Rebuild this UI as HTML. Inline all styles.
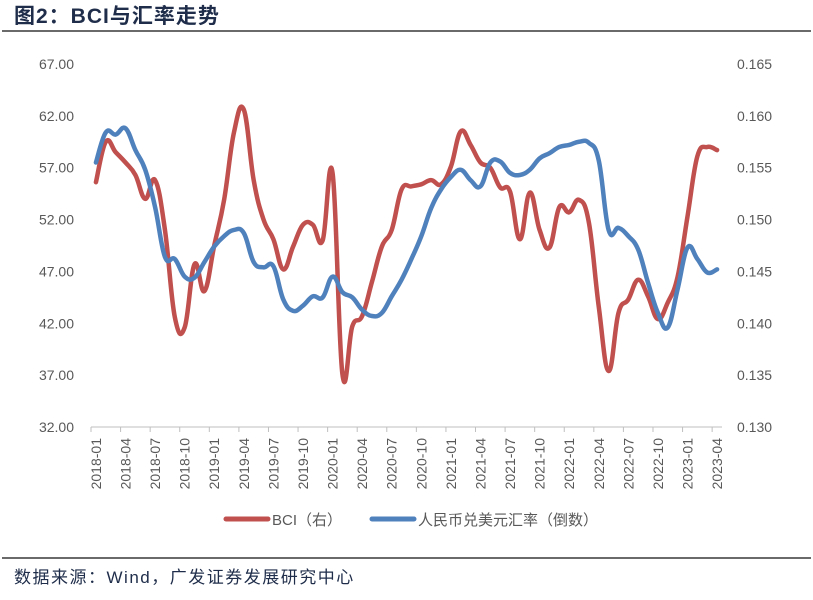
<!DOCTYPE html>
<html><head><meta charset="utf-8"><style>
body{margin:0;background:#fff;width:813px;height:595px;overflow:hidden;font-family:"Liberation Sans","Noto Sans CJK SC",sans-serif}
</style></head><body>
<svg width="813" height="595" xmlns="http://www.w3.org/2000/svg">
<text x="14" y="23" font-size="21" font-weight="bold" letter-spacing="1" fill="#1f2d4a" font-family="Liberation Sans, Noto Sans CJK SC, sans-serif">图2：BCI与汇率走势</text>
<line x1="2" y1="31" x2="811" y2="31" stroke="#111" stroke-width="1.3"/>
<g id="axes"></g>
<g id="series"></g>
<g>
<line x1="226" y1="519" x2="268" y2="519" stroke="#c0504d" stroke-width="5" stroke-linecap="round"/>
<text x="272" y="525" font-size="15" fill="#595959">BCI（右）</text>
<line x1="372" y1="519" x2="414" y2="519" stroke="#4f81bd" stroke-width="5" stroke-linecap="round"/>
<text x="418" y="525" font-size="15" fill="#595959">人民币兑美元汇率（倒数）</text>
</g>
<line x1="2" y1="558" x2="811" y2="558" stroke="#111" stroke-width="1.3"/>
<text x="14" y="583" font-size="17" letter-spacing="1.5" fill="#1f2d4a">数据来源：Wind，广发证券发展研究中心</text>
</svg>
<script>
const leftTicks=["32.00","37.00","42.00","47.00","52.00","57.00","62.00","67.00"];
const rightTicks=["0.130","0.135","0.140","0.145","0.150","0.155","0.160","0.165"];
const bci=[55.6,59.5,58.5,57.5,56.3,54.0,55.8,51.0,42.6,41.6,47.7,45.1,49.5,53.9,60.4,62.6,55.8,52.0,50.1,47.2,49.4,51.5,51.5,50.0,56.5,37.1,41.7,42.7,46.0,49.4,51.0,54.9,55.2,55.4,55.8,55.4,57.1,60.5,59.2,57.5,57.0,55.1,54.7,50.1,54.6,51.0,49.3,53.2,52.7,53.9,51.7,43.6,37.4,43.0,44.3,46.2,44.6,42.4,44.0,46.5,52.3,58.1,59.0,58.7];
const fx=[0.1555,0.1584,0.1582,0.1588,0.1567,0.1548,0.1512,0.1464,0.1462,0.1445,0.1444,0.1459,0.1474,0.1484,0.1490,0.1487,0.1459,0.1454,0.1455,0.1423,0.1412,0.1417,0.1426,0.1425,0.1445,0.1430,0.1425,0.1413,0.1407,0.1410,0.1426,0.1442,0.1462,0.1484,0.1511,0.1529,0.1541,0.1548,0.1538,0.1532,0.1555,0.1556,0.1545,0.1543,0.1548,0.1559,0.1564,0.1570,0.1572,0.1575,0.1574,0.1557,0.1490,0.1492,0.1484,0.1471,0.1439,0.1410,0.1396,0.1433,0.1473,0.1462,0.1449,0.1452];
const x0=91,x1=722,yTop=64,yBot=427;
const n=bci.length,step=(x1-x0)/n;
const xs=i=>x0+step*(i+0.5);
const yL=v=>yBot-(v-32)/(67-32)*(yBot-yTop);
const yR=v=>yBot-(v-0.130)/(0.165-0.130)*(yBot-yTop);
const NS="http://www.w3.org/2000/svg";
const axes=document.getElementById('axes'),ser=document.getElementById('series');
function mk(t,a,p){const e=document.createElementNS(NS,t);for(const k in a)e.setAttribute(k,a[k]);p.appendChild(e);return e;}
leftTicks.forEach((t,i)=>{const v=parseFloat(t);
const e=mk('text',{x:74,y:yL(v)+5,'font-size':14,fill:'#595959','text-anchor':'end'},axes);e.textContent=t;

});
rightTicks.forEach((t,i)=>{const v=parseFloat(t);
const e=mk('text',{x:737,y:yR(v)+5,'font-size':14,fill:'#595959'},axes);e.textContent=t;

});
const xa=mk('line',{x1:x0,y1:yBot,x2:x1,y2:yBot,stroke:'#bfbfbf','stroke-width':1},axes);


for(let i=0;i<n;i+=3){
const tk=mk('line',{x1:x0+step*i,y1:yBot,x2:x0+step*i,y2:yBot+5,stroke:'#bfbfbf'},axes);


const y=2018+Math.floor(i/12),m=(i%12)+1;
const lab=y+'-'+(m<10?'0'+m:m);
const cx=xs(i)+5;
const e=mk('text',{x:cx,y:438,'font-size':14,fill:'#595959','text-anchor':'end',transform:`rotate(-90 ${cx} 438)`},axes);
e.textContent=lab;

}
function path(vals,yf){const p=vals.map((v,i)=>[xs(i),yf(v)]);let d=`M${p[0][0]},${p[0][1]}`;
for(let i=0;i<p.length-1;i++){const a=p[Math.max(i-1,0)],b=p[i],c=p[i+1],e=p[Math.min(i+2,p.length-1)];
const t=0.2;d+=` C${b[0]+(c[0]-a[0])*t},${b[1]+(c[1]-a[1])*t} ${c[0]-(e[0]-b[0])*t},${c[1]-(e[1]-b[1])*t} ${c[0]},${c[1]}`;}return d;}
const pb=mk('path',{d:path(bci,yL),fill:'none',stroke:'#c0504d','stroke-width':4.5,'stroke-linejoin':'round','stroke-linecap':'round'},ser);


const pf=mk('path',{d:path(fx,yR),fill:'none',stroke:'#4f81bd','stroke-width':4.5,'stroke-linejoin':'round','stroke-linecap':'round'},ser);


</script>
</body></html>
